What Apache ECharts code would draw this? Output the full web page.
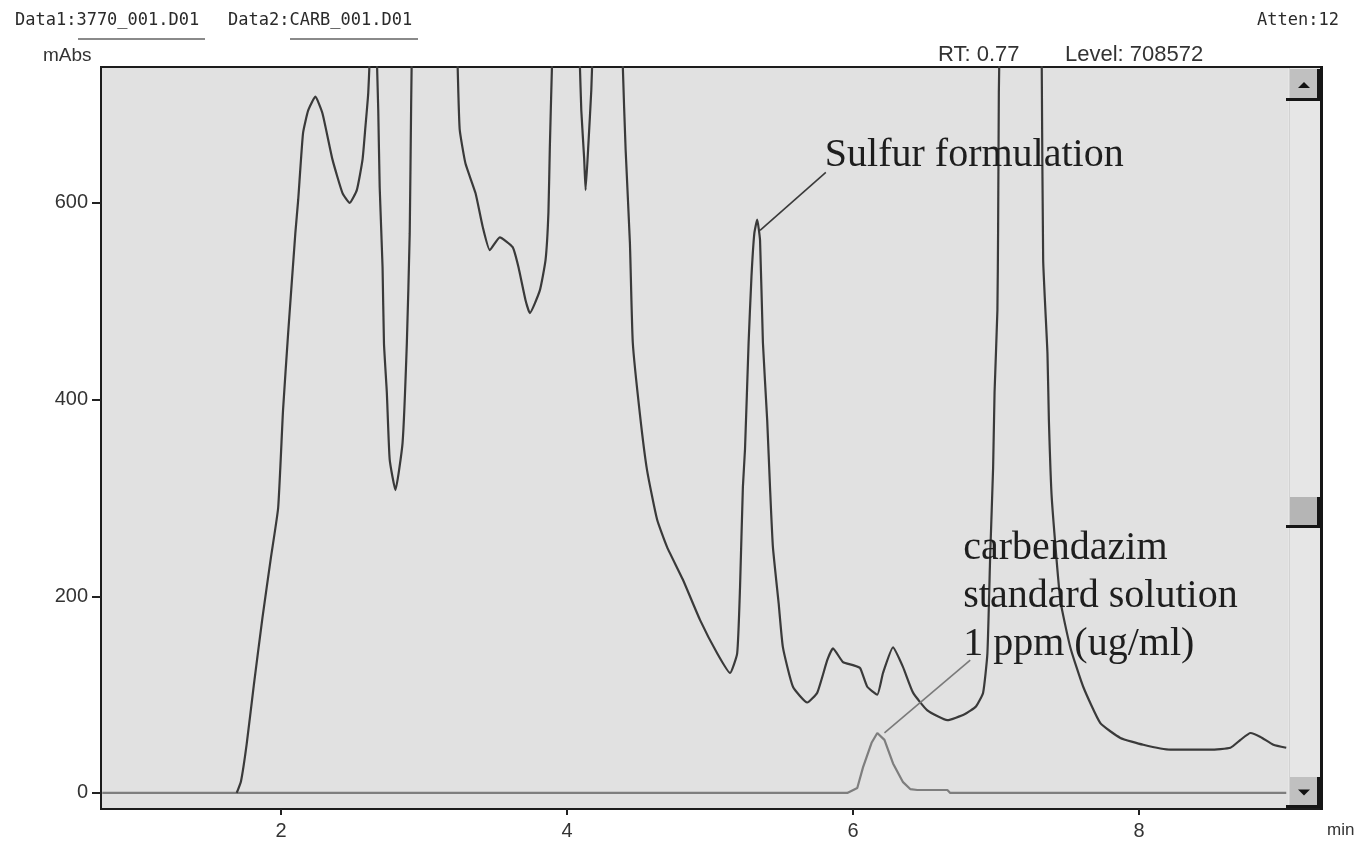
<!DOCTYPE html>
<html>
<head>
<meta charset="utf-8">
<script src="https://cdn.jsdelivr.net/npm/echarts@6/dist/echarts.min.js"></script>
<style>
  html, body { margin: 0; padding: 0; background: #ffffff; }
  #chart { width: 1358px; height: 845px; }
</style>
</head>
<body>
<div id="chart"></div>
<script>
// Retention time (min) and absorbance (mAbs) of the sulfur formulation run
const timeSulfur = [
  1.69, 1.72, 1.76, 1.81, 1.87, 1.93, 1.98, 2.014, 2.05, 2.10, 2.12, 2.154, 2.19, 2.24, 2.29, 2.36, 2.43, 2.48,
  2.53, 2.57, 2.59, 2.61, 2.625, 2.645, 2.665, 2.68, 2.69, 2.71, 2.72, 2.74, 2.76, 2.80, 2.85, 2.88, 2.90,
  2.91, 2.93, 3.05, 3.20, 3.235, 3.24, 3.25, 3.29, 3.36, 3.41, 3.46, 3.53, 3.62, 3.66, 3.71, 3.74, 3.81,
  3.85, 3.87, 3.88, 3.895, 3.95, 4.05, 4.09, 4.10, 4.12, 4.13, 4.15, 4.17, 4.18, 4.26, 4.37, 4.39, 4.41,
  4.44, 4.46, 4.51, 4.56, 4.63, 4.70, 4.81, 4.93, 5.05, 5.14, 5.19, 5.21, 5.23, 5.245, 5.27, 5.29, 5.31,
  5.33, 5.35, 5.37, 5.40, 5.42, 5.44, 5.48, 5.51, 5.58, 5.68, 5.75, 5.82, 5.86, 5.93, 6.00, 6.05, 6.10,
  6.17, 6.21, 6.28, 6.35, 6.42, 6.52, 6.66, 6.78, 6.86, 6.91, 6.94, 6.96, 6.98, 6.99, 7.01, 7.015, 7.02,
  7.025, 7.17, 7.315, 7.32, 7.33, 7.36, 7.37, 7.39, 7.45, 7.52, 7.61, 7.73, 7.87, 8.03, 8.22, 8.50, 8.64,
  8.71, 8.78, 8.85, 8.94, 9.03
];
const absSulfur = [
  0, 12, 50, 110, 178, 240, 290, 389, 468, 569, 603, 671, 694, 708, 691, 644, 610, 600,
  613, 644, 677, 712, 780, 1200, 780, 694, 616, 535, 457, 407, 339, 308, 356, 458, 569,
  700, 900, 1400, 900, 740, 712, 674, 640, 610, 576, 552, 565, 555, 535, 501, 488, 511,
  542, 590, 657, 740, 1000, 900, 740, 694, 645, 613, 661, 715, 760, 1100, 900, 740, 654,
  559, 458, 385, 328, 278, 250, 217, 176, 142, 122, 142, 209, 311, 350, 458, 525, 569,
  583, 562, 458, 379, 310, 250, 193, 148, 108, 92, 102, 135, 147, 133, 130, 127, 108,
  100, 122, 148, 128, 102, 84, 74, 80, 88, 102, 142, 244, 331, 407, 491, 576, 712,
  760, 2000, 760, 740, 542, 447, 379, 300, 196, 148, 108, 71, 56, 49, 44, 44, 46,
  54, 61, 57, 49, 46
];

// Carbendazim standard solution, 1 ppm
const timeCarb = [0.75, 5.96, 6.03, 6.07, 6.13, 6.17, 6.22, 6.28, 6.35, 6.40, 6.45, 6.66, 6.68, 9.03];
const absCarb  = [0,    0,    5,    26,   51,   61,   54,   30,   11,   4,    3,    3,    0,    0];

const xTicks = [2, 4, 6, 8];
const yTicks = [0, 200, 400, 600];

// Label anchors [time, mAbs]: peak end and text end of each leader line
const sulfurLeader = [[5.35, 572], [5.81, 631]];
const carbLeader = [[6.22, 61], [6.82, 135]];

const pair = (t, v) => t.map((x, i) => [x, v[i]]);

const chart = echarts.init(document.getElementById('chart'), null, { renderer: 'canvas' });

const GRID = { left: 101, top: 67, width: 1221, height: 742 };
const monoFont = '"DejaVu Sans Mono", monospace';
const sansFont = '"Liberation Sans", Arial, sans-serif';
const serifFont = '"Liberation Serif", "Times New Roman", serif';

chart.setOption({
  animation: false,
  backgroundColor: '#ffffff',
  grid: {
    left: GRID.left, top: GRID.top, width: GRID.width, height: GRID.height,
    show: true, backgroundColor: '#e1e1e1', borderColor: '#1c1c1c', borderWidth: 2
  },
  xAxis: {
    type: 'value', min: 0.741, max: 9.28,
    axisLine: { show: false, onZero: false },
    splitLine: { show: false },
    axisTick: { show: true, customValues: xTicks, length: 6, lineStyle: { color: '#222', width: 2 } },
    axisLabel: { customValues: xTicks, color: '#333', fontFamily: sansFont, fontSize: 20, margin: 12 }
  },
  yAxis: {
    type: 'value', min: -16.3, max: 738.2,
    axisLine: { show: false, onZero: false },
    splitLine: { show: false },
    axisTick: { show: true, customValues: yTicks, length: 9, lineStyle: { color: '#222', width: 2 } },
    axisLabel: { customValues: yTicks, color: '#333', fontFamily: sansFont, fontSize: 20, margin: 13 }
  },
  series: [
    {
      name: 'carbendazim', type: 'line', data: pair(timeCarb, absCarb),
      showSymbol: false, smooth: false, clip: true, z: 2,
      lineStyle: { color: '#7e7e7e', width: 2.2 },
      markLine: {
        silent: true, symbol: 'none', label: { show: false },
        lineStyle: { color: '#7a7a7a', width: 1.6, type: 'solid' },
        data: [[{ coord: carbLeader[0] }, { coord: carbLeader[1] }]]
      }
    },
    {
      name: 'sulfur', type: 'line', data: pair(timeSulfur, absSulfur),
      showSymbol: false, smooth: 0.15, clip: true, z: 3,
      lineStyle: { color: '#3a3a3a', width: 2.2 },
      markLine: {
        silent: true, symbol: 'none', label: { show: false },
        lineStyle: { color: '#3a3a3a', width: 1.6, type: 'solid' },
        data: [[{ coord: sulfurLeader[0] }, { coord: sulfurLeader[1] }]]
      }
    }
  ]
});

// Annotation text and window furniture
const sulfurText = chart.convertToPixel({ gridIndex: 0 }, sulfurLeader[1]);
const carbText = chart.convertToPixel({ gridIndex: 0 }, carbLeader[1]);

const sbX = 1288, sbW = 34;
function button(y, h, up) {
  const x = sbX + 2, w = sbW - 4;
  const cx = x + w / 2 - 1, cy = y + h / 2;
  return [
    { type: 'rect', shape: { x: x, y: y, width: w, height: h }, style: { fill: '#c0c0c0' }, z: 20 },
    { type: 'rect', shape: { x: x + w - 3, y: y, width: 3, height: h }, style: { fill: '#151515' }, z: 21 },
    { type: 'rect', shape: { x: x - 4, y: y + h - 3, width: w + 4, height: 3 }, style: { fill: '#151515' }, z: 21 },
    { type: 'polygon', shape: { points: up
        ? [[cx - 6, cy + 3], [cx + 6, cy + 3], [cx, cy - 3]]
        : [[cx - 6, cy - 3], [cx + 6, cy - 3], [cx, cy + 3]] },
      style: { fill: '#111' }, z: 22 }
  ];
}

chart.setOption({
  graphic: [
    // header line
    { type: 'text', left: 15, top: 12, style: { text: 'Data1:3770_001.D01', font: '17px ' + monoFont, fill: '#2a2a2a' } },
    { type: 'rect', shape: { x: 78, y: 38, width: 127, height: 2 }, style: { fill: '#8a8a8a' } },
    { type: 'text', left: 228, top: 12, style: { text: 'Data2:CARB_001.D01', font: '17px ' + monoFont, fill: '#2a2a2a' } },
    { type: 'rect', shape: { x: 290, y: 38, width: 128, height: 2 }, style: { fill: '#8a8a8a' } },
    { type: 'text', left: 1257, top: 12, style: { text: 'Atten:12', font: '17px ' + monoFont, fill: '#2a2a2a' } },
    { type: 'text', left: 43, top: 46, style: { text: 'mAbs', font: '19px ' + sansFont, fill: '#333' } },
    { type: 'text', left: 938, top: 44, style: { text: 'RT: 0.77', font: '22px ' + sansFont, fill: '#333' } },
    { type: 'text', left: 1065, top: 44, style: { text: 'Level: 708572', font: '22px ' + sansFont, fill: '#333' } },
    { type: 'text', left: 1327, top: 822, style: { text: 'min', font: '17px ' + sansFont, fill: '#333' } },

    // vertical scrollbar on the right of the plot
    { type: 'rect', shape: { x: sbX, y: 68, width: sbW, height: 740 }, style: { fill: '#e6e6e6' }, z: 15 },
    { type: 'rect', shape: { x: sbX + 1, y: 68, width: 1, height: 740 }, style: { fill: '#d2d2d2' }, z: 16 },
    { type: 'rect', shape: { x: 1320, y: 66, width: 3, height: 744 }, style: { fill: '#151515' }, z: 23 },
    ...button(69, 32, true),
    { type: 'rect', shape: { x: sbX + 2, y: 497, width: sbW - 4, height: 31 }, style: { fill: '#b5b5b5' }, z: 20 },
    { type: 'rect', shape: { x: sbX + sbW - 5, y: 497, width: 3, height: 31 }, style: { fill: '#151515' }, z: 21 },
    { type: 'rect', shape: { x: sbX - 2, y: 525, width: sbW, height: 3 }, style: { fill: '#151515' }, z: 21 },
    ...button(777, 31, false),

    // peak labels
    { type: 'text', x: sulfurText[0] - 1, y: sulfurText[1] + 3, z: 30,
      style: { text: 'Sulfur formulation', font: '40px ' + serifFont, fill: '#1e1e1e',
               textAlign: 'left', textVerticalAlign: 'bottom' } },
    { type: 'text', x: carbText[0] - 7, y: carbText[1] + 8, z: 30,
      style: { text: 'carbendazim\nstandard solution\n1 ppm (ug/ml)', font: '40px ' + serifFont,
               lineHeight: 48, fill: '#1e1e1e', textAlign: 'left', textVerticalAlign: 'bottom' } }
  ]
});
</script>
</body>
</html>
